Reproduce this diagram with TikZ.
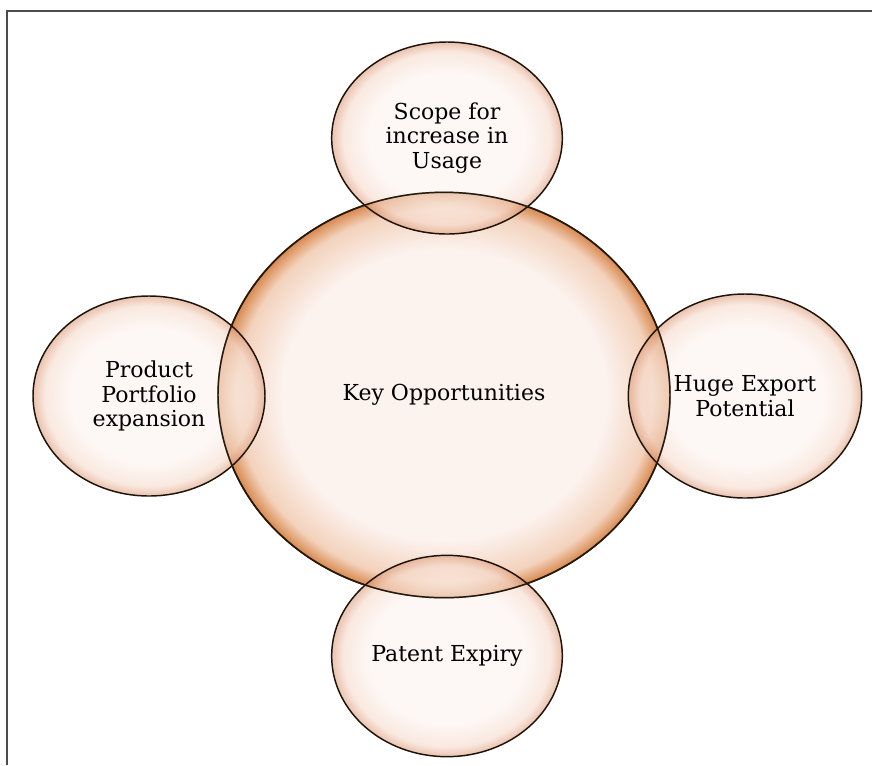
\documentclass[tikz,border=0pt]{standalone}
\usepackage{fontspec}
\setmainfont{DejaVu Serif}
\usetikzlibrary{shapes.geometric}
\definecolor{bubin}{HTML}{FCF2EE}
\definecolor{bubmid}{HTML}{F6DACB}
\definecolor{bubout}{HTML}{DC9A78}
\definecolor{keyout}{HTML}{D8894F}
\definecolor{keymid}{HTML}{F3D2BC}
\pgfdeclareradialshading{bubble}{\pgfpoint{0bp}{0bp}}{color(0bp)=(bubin); color(17bp)=(bubin); color(22.5bp)=(bubmid); color(25bp)=(bubout); color(50bp)=(bubout)}
\pgfdeclareradialshading{keybubble}{\pgfpoint{0bp}{0bp}}{color(0bp)=(bubin); color(18bp)=(bubin); color(23bp)=(keymid); color(25bp)=(keyout); color(50bp)=(keyout)}
\tikzstyle{bubble} = [ellipse, draw=black!85!brown, line width=1.1pt, shading=bubble, fill opacity=0.6, text opacity=1, align=center, inner sep=0pt, font=\fontsize{16.5}{18.5}\selectfont]
\tikzstyle{key} = [ellipse, draw=black!80!brown, line width=1.2pt, shading=keybubble, align=center, inner sep=0pt, font=\fontsize{16.5}{18.5}\selectfont]
\tikzstyle{rim} = [draw=black!80!brown, line width=1.1pt]

\begin{document}
\begin{tikzpicture}[x=0.75pt,y=-0.75pt]
    \useasboundingbox (0,0) rectangle (872,765);
    \draw[line width=1.4pt, black!70] (7,765) -- (7,11) -- (872,11);

    \node (Key) [key, minimum width=339pt, minimum height=304pt] at (444,395) {Key Opportunities};
    \node (Usage) [bubble, minimum width=173pt, minimum height=144pt] at (447,138) {Scope for\\increase in\\Usage};
    \node (Portfolio) [bubble, minimum width=174pt, minimum height=150pt] at (149,396) {Product\\Portfolio\\expansion};
    \node (Export) [bubble, minimum width=175pt, minimum height=153pt] at (745,396) {Huge Export\\Potential};
    \node (Patent) [bubble, minimum width=173pt, minimum height=151pt] at (447,656) {Patent Expiry};

    % outline of the big bubble seen through the small ones
    \draw[rim] (Key.center) ellipse [x radius=226, y radius=202.7];
\end{tikzpicture}
\end{document}
